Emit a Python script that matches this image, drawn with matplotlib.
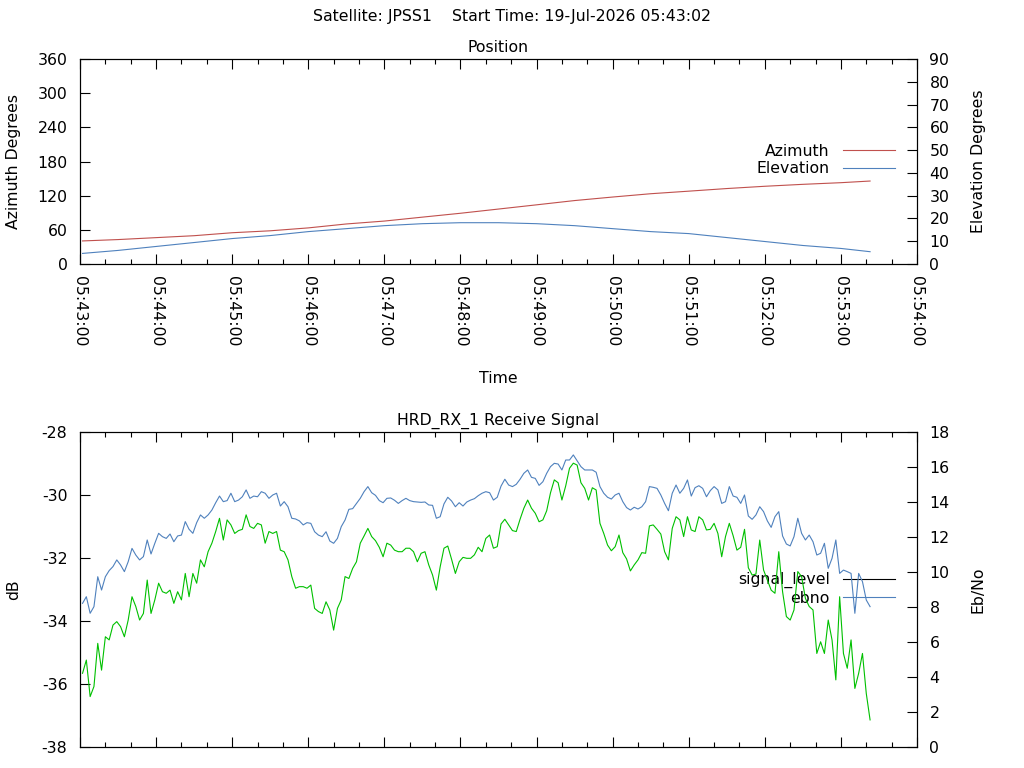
import numpy as np
import matplotlib.pyplot as plt
from matplotlib.lines import Line2D
from matplotlib.ticker import MultipleLocator

satellite = "JPSS1"
start_time = "19-Jul-2026 05:43:02"
receiver = "HRD_RX_1"

# time axis: seconds after 05:43:00
time_ticks = [0, 60, 120, 180, 240, 300, 360, 420, 480, 540, 600, 660]
time_labels = ["05:43:00", "05:44:00", "05:45:00", "05:46:00", "05:47:00", "05:48:00",
               "05:49:00", "05:50:00", "05:51:00", "05:52:00", "05:53:00", "05:54:00"]

# position track
pos_t = [2, 30, 60, 90, 120, 150, 180, 210, 240, 270, 300, 330,
         360, 390, 420, 450, 480, 510, 540, 570, 600, 623]
azimuth = [40.5, 42.9, 46.3, 49.7, 54.9, 58.3, 63.4, 70.3, 75.4, 82.3, 89.1, 96.5,
           103.9, 111.4, 117.6, 123.4, 127.9, 132.5, 136.5, 139.9, 142.8, 145.7]
elevation = [4.65, 5.96, 7.70, 9.43, 11.17, 12.48, 14.22, 15.52, 16.83, 17.70, 18.13, 18.13,
             17.70, 16.83, 15.52, 14.22, 13.35, 11.61, 9.87, 8.13, 6.83, 5.4]

# receive signal, one sample every 3 s starting at 05:43:02
sig_start = 2
sig_step = 3
signal_level = [
    -35.66, -35.24, -36.40, -36.08, -34.71, -35.56, -34.50, -34.60, -34.13, -34.02,
    -34.18, -34.50, -33.97, -33.23, -33.54, -33.97, -33.76, -32.70, -33.76, -33.33,
    -32.80, -33.07, -33.12, -33.02, -33.44, -33.07, -33.33, -32.49, -33.23, -32.49,
    -32.80, -32.06, -32.28, -31.80, -31.53, -31.16, -30.74, -31.43, -30.79, -30.95,
    -31.22, -31.13, -31.09, -30.63, -31.00, -31.06, -30.90, -30.95, -31.53, -31.16,
    -31.22, -31.16,
    -31.75, -31.80, -32.06, -32.59, -32.96, -32.91, -32.91, -32.96, -32.86, -33.60,
    -33.70, -33.76, -33.39, -33.65, -34.29, -33.60, -33.33, -32.59, -32.65, -32.33,
    -32.12, -31.53, -31.30, -31.06, -31.32, -31.45, -31.66, -31.96, -31.53, -31.59,
    -31.75, -31.80, -31.80, -31.69, -31.69, -31.80, -32.12, -31.85, -31.80, -32.22,
    -32.54, -33.02, -32.28, -31.69, -31.62, -32.04, -32.49, -32.12, -31.98, -32.01,
    -32.01, -31.90,
    -31.66, -31.80, -31.38, -31.27, -31.69, -31.64, -30.92, -30.77, -30.95, -31.13,
    -31.16, -30.77, -30.42, -30.16, -30.42, -30.58, -30.85, -30.79, -30.50, -29.93,
    -29.52, -29.61, -30.16, -29.71, -29.15, -28.99, -29.05, -29.61, -29.79, -30.16,
    -29.77, -29.84, -30.90, -31.22, -31.59, -31.77, -31.64, -31.27, -31.83, -32.03,
    -32.41, -32.22, -32.06, -31.83, -31.85, -30.98, -30.95, -31.09, -31.24, -31.80,
    -32.06, -31.06,
    -30.69, -30.79, -31.32, -30.69, -31.11, -31.16, -30.69, -30.79, -31.11, -31.09,
    -30.90, -31.22, -31.96, -31.32, -30.90, -31.29, -31.75, -31.66, -31.09, -32.31,
    -32.54, -32.51, -31.43, -32.38, -32.70, -33.02, -33.12, -31.80, -33.07, -33.86,
    -33.97, -33.65, -32.43, -32.59, -33.28, -33.54, -33.65, -35.03, -34.66, -35.03,
    -33.97, -34.60, -35.87, -33.23, -35.03, -35.50, -34.60, -36.14, -35.66, -35.03,
    -36.30, -37.14,
]
ebno = [
    8.21, 8.59, 7.64, 8.02, 9.73, 8.97, 9.73, 10.08, 10.31, 10.69,
    10.40, 10.02, 10.59, 11.35, 10.97, 10.69, 10.88, 11.83, 11.03, 11.64,
    12.21, 12.02, 11.92, 12.17, 11.73, 12.06, 12.11, 12.88, 12.44, 12.21,
    12.82, 13.26, 13.07, 13.26, 13.54, 13.96, 14.34, 14.02, 14.08, 14.50,
    14.02, 14.11, 14.30, 14.69, 14.21, 14.34, 14.30, 14.59, 14.50, 14.21,
    14.40, 14.50,
    13.77, 14.02, 13.73, 13.07, 13.03, 12.92, 12.69, 12.82, 12.78, 12.30,
    12.11, 12.02, 12.30, 11.77, 11.64, 11.92, 12.59, 12.97, 13.58, 13.62,
    13.92, 14.21, 14.59, 14.88, 14.53, 14.38, 14.08, 13.96, 14.21, 14.23,
    14.10, 13.92, 14.08, 14.21, 14.08, 14.02, 14.00, 13.98, 14.00, 13.83,
    13.81, 13.07, 13.16, 13.89, 14.27, 14.06, 13.73, 13.96, 13.77, 14.00,
    14.11, 14.19,
    14.36, 14.50, 14.59, 14.53, 14.11, 14.27, 14.91, 15.30, 14.97, 14.88,
    15.01, 15.30, 15.64, 15.83, 15.41, 15.35, 14.95, 15.16, 15.64, 16.02,
    16.21, 16.17, 15.83, 16.40, 16.40, 16.69, 16.36, 16.02, 15.83, 15.83,
    15.83, 15.70, 14.88, 14.50, 14.27, 14.17, 14.40, 14.50, 14.02, 13.68,
    13.54, 13.70, 13.60, 13.73, 14.02, 14.88, 14.84, 14.78, 14.40, 13.92,
    13.50, 14.50,
    14.97, 14.50, 14.78, 15.26, 14.34, 14.82, 14.93, 14.78, 14.30, 14.65,
    14.88, 14.69, 13.92, 14.02, 14.88, 14.34, 14.27, 13.92, 14.40, 13.20,
    13.01, 13.26, 13.73, 13.45, 12.92, 12.55, 13.16, 13.45, 12.06, 11.60,
    11.49, 12.02, 13.07, 12.21, 11.83, 12.11, 11.73, 10.97, 11.07, 11.64,
    10.21, 10.78, 11.83, 9.92, 10.11, 10.02, 9.92, 7.64, 9.92, 9.45,
    8.40, 8.02,
]

RED = "#c0504d"
BLUE = "#4f81bd"
GREEN = "#00c000"
FS = 11.3
LW = 0.8

plt.rcParams['font.family'] = ['DejaVu Sans']
plt.rcParams['font.size'] = FS

sig_t = sig_start + sig_step * np.arange(len(signal_level))

fig = plt.figure(figsize=(10.24, 7.68), dpi=100)
W, H = 1024.0, 768.0
ax1 = fig.add_axes([80 / W, 1 - 264 / H, 837 / W, 205 / H])
ax1r = ax1.twinx()
ax2 = fig.add_axes([80 / W, 1 - 747 / H, 837 / W, 315 / H])
ax2r = ax2.twinx()


def style(ax, axr):
    for a in (ax, axr):
        for s in a.spines.values():
            s.set_linewidth(0.8)
    ax.set_xlim(0, 660)
    ax.xaxis.set_major_locator(plt.FixedLocator(time_ticks))
    ax.xaxis.set_minor_locator(MultipleLocator(20))
    ax.tick_params(axis='x', which='both', direction='in', top=True, bottom=True, width=0.8)
    ax.tick_params(axis='x', which='major', length=7)
    ax.tick_params(axis='x', which='minor', length=3.5)
    ax.tick_params(axis='y', direction='in', left=True, right=False, length=7, width=0.8, pad=9)
    axr.tick_params(axis='y', direction='in', left=False, right=True, length=7, width=0.8, pad=9)


# ---- Position
style(ax1, ax1r)
ax1.plot(pos_t, azimuth, color=RED, lw=LW)
ax1r.plot(pos_t, elevation, color=BLUE, lw=LW)
ax1.set_ylim(0, 360)
ax1.set_yticks(np.arange(0, 361, 60))
ax1r.set_ylim(0, 90)
ax1r.set_yticks(np.arange(0, 91, 10))
ax1.set_xticklabels(time_labels, rotation=-90)
ax1.tick_params(axis='x', which='major', pad=9)
ax1.set_title("Position", fontsize=FS, pad=5.3)
ax1.set_xlabel("Time")
ax1.xaxis.set_label_coords(0.5, -0.522)
ax1.set_ylabel("Azimuth Degrees")
ax1.yaxis.set_label_coords(-0.0699, 0.5)
ax1r.set_ylabel("Elevation Degrees")
ax1r.yaxis.set_label_coords(1.064, 0.5)

h_pos = [Line2D([], [], color=RED, lw=LW), Line2D([], [], color=BLUE, lw=LW)]
ax1r.legend(h_pos, ["Azimuth", "Elevation"], loc="center right",
            bbox_to_anchor=(0.9737, 0.507), frameon=False, markerfirst=False,
            borderpad=0, borderaxespad=0, handlelength=3.3, handletextpad=0.85,
            labelspacing=0.15, fontsize=FS)

# ---- Receive signal
style(ax2, ax2r)
ax2.plot(sig_t, signal_level, color=GREEN, lw=LW, zorder=3)
ax2r.plot(sig_t, ebno, color=BLUE, lw=LW, zorder=3)
ax2.set_ylim(-38, -28)
ax2.set_yticks(np.arange(-38, -27, 2))
ax2.set_yticklabels([str(v) for v in range(-38, -27, 2)])
ax2r.set_ylim(0, 18)
ax2r.set_yticks(np.arange(0, 19, 2))
ax2.set_xticklabels([])
ax2.set_title(receiver + " Receive Signal", fontsize=FS, pad=5.0)
ax2.set_ylabel("dB")
ax2.yaxis.set_label_coords(-0.0699, 0.5)
ax2r.set_ylabel("Eb/No")
ax2r.yaxis.set_label_coords(1.064, 0.5)

h_sig = [Line2D([], [], color="black", lw=LW), Line2D([], [], color=BLUE, lw=LW)]
leg = ax2.legend(h_sig, ["signal_level", "ebno"], loc="center right",
                 bbox_to_anchor=(0.9737, 0.5016), frameon=False, markerfirst=False,
                 borderpad=0, borderaxespad=0, handlelength=3.3, handletextpad=0.85,
                 labelspacing=0.15, fontsize=FS)
leg.set_zorder(1)

fig.text(0.5, 1 - 17 / H, "Satellite: " + satellite + "    Start Time: " + start_time,
         ha="center", va="center", fontsize=FS)

fig.savefig("out.png", dpi=100)
